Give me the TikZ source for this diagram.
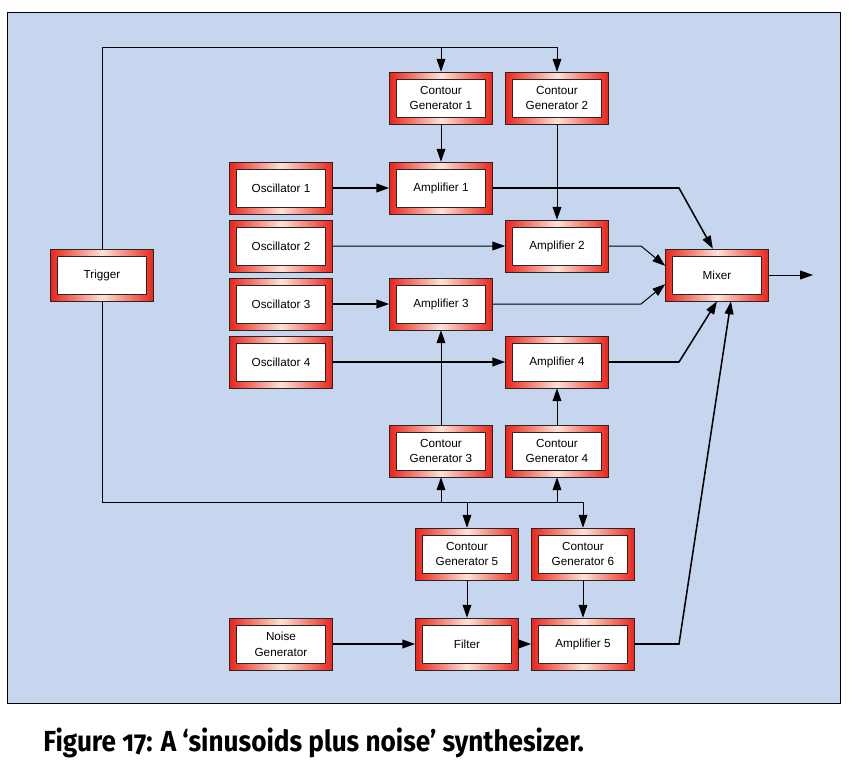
\documentclass[tikz,border=0pt]{standalone}
\usepackage{fontspec}
\usepackage{tikz}
\usepackage{xcolor}
\usetikzlibrary{arrows.meta,positioning}
\setmainfont{Liberation Sans}
\newfontfamily\captionfont[Numbers=OldStyle]{Fira Sans}
\definecolor{panelblue}{RGB}{197,214,238}
\definecolor{unitred}{RGB}{236,36,24}
\definecolor{unitpale}{RGB}{255,226,216}
\tikzstyle{unit} = [rectangle, draw=black!85, line width=0.5pt, left color=unitred, right color=unitred, middle color=unitpale,
  minimum width=3.09cm, minimum height=1.56cm, align=center, font=\fontsize{10}{13.4}\selectfont,
  path picture={\draw[-, fill=white, draw=black!85, line width=0.6pt]
    ([shift={(0.21cm,0.21cm)}]path picture bounding box.south west) rectangle
    ([shift={(-0.21cm,-0.21cm)}]path picture bounding box.north east);}]
\tikzstyle{signal} = [line width=1.3pt]
\tikzstyle{control} = [line width=0.85pt]

\begin{document}
\begin{tikzpicture}[->,>={Triangle[length=11pt,width=7.5pt]},x=0.03cm,y=-0.03cm,node distance=1.74cm,control]
  \useasboundingbox (0,0) rectangle (856,778);
  \draw[-,fill=panelblue,line width=0.8pt] (7,12) rectangle (840,703);

  \node[unit] (Trigger) at (102,275) {Trigger};
  \node[unit] (Osc_1) at (281,188) {Oscillator 1};
  \node[unit] (Osc_2) [below of=Osc_1] {Oscillator 2};
  \node[unit] (Osc_3) [below of=Osc_2] {Oscillator 3};
  \node[unit] (Osc_4) [below of=Osc_3] {Oscillator 4};
  \node[unit] (CG_1) at (441,98) {Contour\\Generator 1};
  \node[unit] (CG_2) at (557,98) {Contour\\Generator 2};
  \node[unit] (Amp_1) at (441,188) {Amplifier 1};
  \node[unit] (Amp_2) at (557,246) {Amplifier 2};
  \node[unit] (Amp_3) at (441,304) {Amplifier 3};
  \node[unit] (Amp_4) at (557,362) {Amplifier 4};
  \node[unit] (CG_3) at (441,451) {Contour\\Generator 3};
  \node[unit] (CG_4) at (557,451) {Contour\\Generator 4};
  \node[unit] (CG_5) at (467,554) {Contour\\Generator 5};
  \node[unit] (CG_6) at (583,554) {Contour\\Generator 6};
  \node[unit] (Noise) at (281,644) {Noise\\Generator};
  \node[unit] (Filter) at (467,644) {Filter};
  \node[unit] (Amp_5) at (583,644) {Amplifier 5};
  \node[unit] (Mixer) at (717,275) {Mixer};

  \coordinate (top_bus) at (557,47);
  \coordinate (low_bus) at (583,502);
  \coordinate (near_knee) at (641,0);
  \coordinate (far_knee) at (679,0);
  \coordinate (out) at (813,275);

  % trigger buses
  \draw (Trigger.north) |- (top_bus) -- (CG_2.north);
  \draw (CG_1.north |- top_bus) -- (CG_1.north);
  \draw (Trigger.south) |- (low_bus) -- (CG_6.north);
  \draw (CG_3.south |- low_bus) -- (CG_3.south);
  \draw (CG_4.south |- low_bus) -- (CG_4.south);
  \draw (CG_5.north |- low_bus) -- (CG_5.north);

  % contour generators
  \path (CG_1) edge (Amp_1);
  \path (CG_2) edge (Amp_2);
  \path (CG_3) edge (Amp_3);
  \path (CG_4) edge (Amp_4);
  \path (CG_5) edge (Filter);
  \path (CG_6) edge (Amp_5);

  % signal path
  \path[signal] (Osc_1) edge (Amp_1);
  \path (Osc_2) edge (Amp_2);
  \path[signal] (Osc_3) edge (Amp_3);
  \path[signal] (Osc_4) edge (Amp_4);
  \path[signal] (Noise) edge (Filter);
  \path[signal] (Filter) edge (Amp_5);

  \draw[signal] (Amp_1.east) -- (Amp_1.east -| far_knee) -- (Mixer.99);
  \draw (Amp_2.east) -- (Amp_2.east -| near_knee) -- (Mixer.170);
  \draw (Amp_3.east) -- (Amp_3.east -| near_knee) -- (Mixer.190);
  \draw[signal] (Amp_4.east) -- (Amp_4.east -| far_knee) -- (Mixer.south);
  \draw[signal] (Amp_5.east) -- (Amp_5.east -| far_knee) -- (Mixer.298);
  \draw (Mixer) -- (out);

  \node[anchor=base west,inner sep=0pt] (Caption) at (43,751)
    {\scalebox{0.9}[1]{\captionfont\bfseries\fontsize{24.8}{28}\selectfont Figure 17: A ‘sinusoids plus noise’ synthesizer.}};
\end{tikzpicture}
\end{document}
